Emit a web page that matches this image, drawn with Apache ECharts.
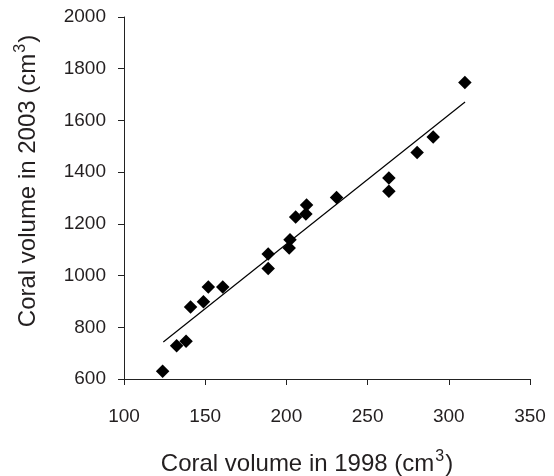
<!DOCTYPE html>
<html>
<head>
<meta charset="utf-8">
<script src="https://cdn.jsdelivr.net/npm/echarts@6/dist/echarts.min.js"></script>
<style>
html,body{margin:0;padding:0;background:#fff;}
#c{width:554px;height:476px;}
</style>
</head>
<body>
<div id="c"></div>
<script>
// Data
const vol1998 = [123.8, 132.4, 138.2, 141.0, 148.9, 151.9, 160.8, 188.8, 188.8, 201.7, 202.2, 205.7, 212.0, 212.4, 230.9, 263.1, 263.1, 280.5, 290.4, 309.9];
const vol2003 = [630, 729, 746, 878, 899, 956, 956, 1083, 1027, 1107, 1139, 1227, 1238, 1273, 1302, 1377, 1326, 1476, 1536, 1747];
const trendX = [124.2, 310.0];
const trendY = [743, 1671];
const xTicks = [100, 150, 200, 250, 300, 350];
const yTicks = [600, 800, 1000, 1200, 1400, 1600, 1800, 2000];
const xTitleParts = ['Coral volume in 1998 (cm', '3', ')'];
const yTitleParts = ['Coral volume in 2003 (cm', '3', ')'];

const points = vol1998.map((x, i) => [x, vol2003[i]]);
const trend = trendX.map((x, i) => [x, trendY[i]]);

const chart = echarts.init(document.getElementById('c'), null, {renderer: 'canvas'});
const font = 'Liberation Sans, Arial, Helvetica, sans-serif';
const axisCol = '#222';
const textCol = '#231f20';

function titleStyle(parts) {
  return {
    text: '{a|' + parts[0] + '}{s|' + parts[1] + '}{a|' + parts[2] + '}',
    fill: textCol, fontFamily: font, fontSize: 24,
    textAlign: 'center', textVerticalAlign: 'middle',
    rich: {
      a: {fontSize: 24, fontFamily: font, color: textCol, lineHeight: 30, verticalAlign: 'middle'},
      s: {fontSize: 16, fontFamily: font, color: textCol, lineHeight: 30, verticalAlign: 'top', padding: [0, 1, 0, 1]}
    }
  };
}

chart.setOption({
  animation: false,
  backgroundColor: '#fff',
  grid: {left: 124, right: 24, top: 17, bottom: 97, containLabel: false},
  xAxis: {
    type: 'value',
    min: xTicks[0], max: xTicks[xTicks.length - 1], interval: 50,
    axisLine: {show: true, lineStyle: {color: axisCol, width: 1}},
    axisTick: {show: true, length: 6, lineStyle: {color: axisCol, width: 1}},
    axisLabel: {margin: 28, fontSize: 19, color: textCol, fontFamily: font},
    splitLine: {show: false}
  },
  yAxis: {
    type: 'value',
    min: yTicks[0], max: yTicks[yTicks.length - 1], interval: 200,
    axisLine: {show: true, lineStyle: {color: axisCol, width: 1}},
    axisTick: {show: true, length: 6, lineStyle: {color: axisCol, width: 1}},
    axisLabel: {margin: 18, fontSize: 19, color: textCol, fontFamily: font,
                formatter: v => String(v)},
    splitLine: {show: false}
  },
  graphic: [
    Object.assign({type: 'text', x: 307, y: 464}, {style: titleStyle(xTitleParts)}),
    Object.assign({type: 'text', x: 28, y: 181, rotation: Math.PI / 2}, {style: titleStyle(yTitleParts)})
  ],
  series: [
    {type: 'line', data: trend, showSymbol: false, symbol: 'none',
     lineStyle: {color: '#000', width: 1.2}, z: 1, silent: true},
    {type: 'scatter', data: points, symbol: 'diamond', symbolSize: 13.5,
     itemStyle: {color: '#000', opacity: 1}, z: 2}
  ]
});
</script>
</body>
</html>
